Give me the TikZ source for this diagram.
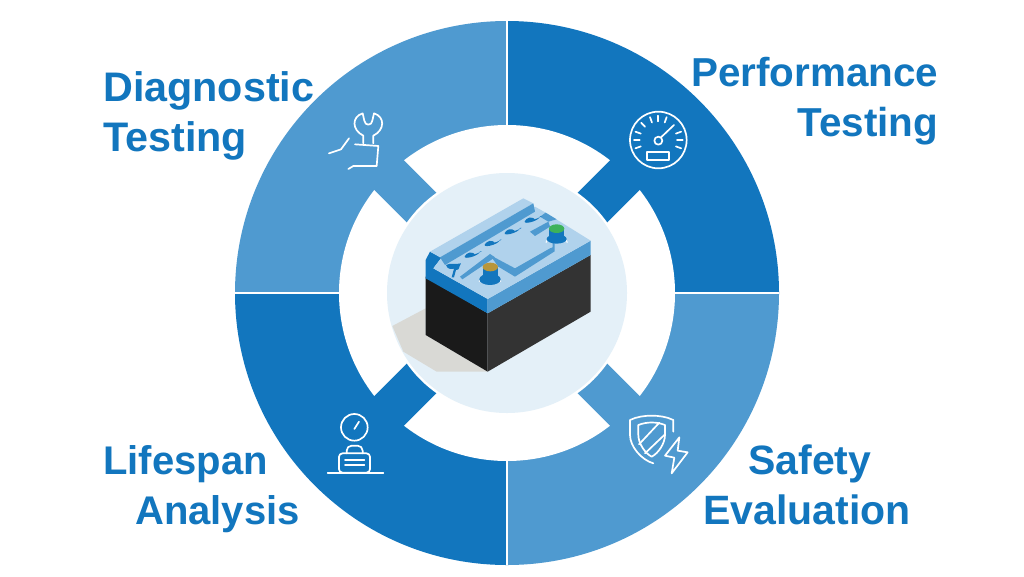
\documentclass[tikz,border=0pt]{standalone}
\usepackage{fontspec}
\setmainfont{Liberation Sans}
\definecolor{lightb}{HTML}{4F9AD0}
\definecolor{darkb}{HTML}{1276BE}
\definecolor{pale}{HTML}{E4F0F8}
\definecolor{lidtop}{HTML}{B0D2EC}
\definecolor{shadowgray}{HTML}{D9D9D5}
\definecolor{blackl}{HTML}{1A1A1A}
\definecolor{blackr}{HTML}{333333}
\definecolor{termg}{HTML}{3DB25A}
\definecolor{termy}{HTML}{B8963A}
\tikzset{
  label text/.style={font=\fontsize{#1}{50}\selectfont\bfseries,text=darkb,inner sep=0pt,anchor=north west,align=left},
  icon/.style={draw=white,line width=1.7pt,line cap=round,line join=round},
  zoomed/.style={shift={(#1)},x=0.3333pt,y=-0.3333pt}
}
\begin{document}
\begin{tikzpicture}[x=1pt,y=-1pt]
\useasboundingbox (0,0) rectangle (1024,576);
\fill[white] (0,0) rectangle (1024,576);
\coordinate (c) at (507,293);
% quadrants
\fill[lightb] (c) -- (235,293) arc[start angle=180,end angle=90,radius=272pt] -- cycle;
\fill[darkb] (c) -- (507,21) arc[start angle=90,end angle=0,radius=272pt] -- cycle;
\fill[lightb] (c) -- (779,293) arc[start angle=0,end angle=-90,radius=272pt] -- cycle;
\fill[darkb] (c) -- (507,565) arc[start angle=-90,end angle=-180,radius=272pt] -- cycle;
\draw[white,line width=1.4pt] (235,293) -- (779,293) (507,21) -- (507,565);
\fill[white] (c) circle[radius=168pt];
% diagonal bars
\begin{scope}[shift={(c)}]
\fill[darkb,rotate=45] (-175,-21) rectangle (-100,21);
\fill[lightb,rotate=-45] (100,-21) rectangle (175,21);
\fill[darkb,rotate=45] (100,-21) rectangle (175,21);
\fill[lightb,rotate=-45] (-175,-21) rectangle (-100,21);
\end{scope}
\fill[white] (c) circle[radius=122.5pt];
\fill[pale] (c) circle[radius=120pt];
% battery
\begin{scope}[zoomed={380,170}]
\begin{scope}
\clip (381,369) circle[radius=360];
\fill[shadowgray] (323,605) -- (170,605) -- (70,545) -- (37,468) -- (137,415) -- (137,495) -- cycle;
\end{scope}
\fill[blackl] (137,320) -- (323,430) -- (323,605) -- (137,495) -- cycle;
\fill[blackr] (323,430) -- (632,255) -- (632,425) -- (323,605) -- cycle;
\fill[darkb] (137,270) -- (150,245) -- (185,262) -- (160,295) -- (323,387) -- (323,430) -- (137,325) -- cycle;
\fill[lightb] (323,387) -- (632,212) -- (632,255) -- (323,430) -- cycle;
\fill[lidtop] (160,295) -- (185,262) -- (465,110) -- (497,128) -- (632,212) -- (323,387) -- cycle;
\fill[lidtop] (150,245) -- (430,85) -- (460,100) -- (180,262) -- cycle;
\fill[lightb] (180,262) -- (460,100) -- (465,125) -- (195,285) -- cycle;
% channel and panel faces
\fill[lightb] (240,320) -- (330,252) -- (345,262) -- (247,328) -- cycle;
\fill[lightb] (330,255) -- (405,295) -- (510,235) -- (518,232) -- (518,205) -- (524,205) -- (524,244) -- (405,320) -- (355,290) -- cycle;
\fill[lightb] (450,185) -- (505,155) -- (510,170) -- (465,198) -- cycle;
\fill[lightb] (497,128) -- (530,148) -- (505,155) -- (480,140) -- cycle;
% dimples
\foreach \p in {(460,145),(400,180),(340,215),(280,250)}{
  \fill[darkb] \p ++(-20,2) .. controls +(8,-10) and +(12,-2) .. ++(20,2) .. controls +(10,-2) and +(16,-4) .. ++(20,-10) .. controls +(-2,16) and +(-26,22) .. ++(-40,8) -- cycle;
}
\fill[darkb] (198,285) .. controls (210,278) and (225,285) .. (243,280) .. controls (235,292) and (240,300) .. (228,300) -- (222,322) -- (215,322) -- (222,296) .. controls (212,298) and (202,298) .. (198,285) -- cycle;
% terminals
\draw[white,line width=1pt] (298,335) arc[x radius=32,y radius=15,start angle=180,end angle=360];
\fill[darkb] (308,292) rectangle (354,325);
\fill[darkb] (330,328) ellipse[x radius=32,y radius=17];
\fill[termy] (331,291) ellipse[x radius=23,y radius=13];
\draw[white,line width=1pt] (498,218) arc[x radius=32,y radius=15,start angle=180,end angle=360];
\fill[darkb] (507,176) rectangle (553,208);
\fill[darkb] (530,207) ellipse[x radius=30,y radius=14];
\fill[termg] (530,176) ellipse[x radius=23,y radius=13];
\end{scope}
% icons: wrench
\begin{scope}[zoomed={315,100}]
\draw[icon] (145,130) -- (145,107) .. controls (110,90) and (110,50) .. (143,40) -- (148,62) .. controls (150,78) and (170,78) .. (172,62) -- (177,40) .. controls (210,50) and (210,90) .. (175,107) -- (175,130);
\draw[icon] (120,133) -- (190,138) -- (185,198) -- (115,198) -- (100,207);
\draw[icon] (102,115) -- (78,148) -- (42,160);
\end{scope}
% gauge
\begin{scope}[zoomed={620,100}]
\draw[icon] (115,120) circle[radius=85];
\draw[icon] (115,122) circle[radius=12];
\draw[icon] (123,112) -- (162,75);
\foreach \a in {-20,0,20,70,90,110,135,160,180,200}{
  \draw[icon] (115,120) +(-\a:73) -- +(-\a:56);
}
\draw[icon] (82,155) rectangle (147,180);
\end{scope}
% lifespan
\begin{scope}[zoomed={315,405}]
\draw[icon] (118,67) circle[radius=40];
\draw[icon] (118,72) -- (132,50);
\draw[icon,rounded corners=3.5pt] (72,145) rectangle (165,203);
\draw[icon,rounded corners=5pt] (95,145) -- (95,122) -- (143,122) -- (143,145);
\draw[icon] (90,165) -- (148,165) (90,180) -- (148,180);
\draw[icon] (38,205) -- (205,205);
\end{scope}
% shield
\begin{scope}[zoomed={620,405}]
\draw[icon] (160,80) -- (160,45) .. controls (140,35) and (115,32) .. (95,32) .. controls (75,32) and (50,35) .. (30,45) -- (30,90) .. controls (30,125) and (65,165) .. (100,175);
\draw[icon] (55,60) .. controls (80,50) and (110,50) .. (135,60) -- (135,90) .. controls (135,115) and (115,145) .. (95,155) .. controls (75,145) and (55,115) .. (55,90) -- cycle;
\draw[icon] (57,118) -- (118,53) (75,145) -- (135,88);
\draw[icon] (178,97) -- (135,152) -- (163,158) -- (155,205) -- (203,142) -- (173,137) -- cycle;
\end{scope}
% labels
\node[label text=41.3] (diag) at (103,71) {Diagnostic\\Testing};
\node[label text=40.4,align=right] (perf) at (691,57) {Performance\\Testing};
\node[label text=40] (life) at (103,445) {Lifespan\\\hspace*{32pt}Analysis};
\node[label text=41] (safe) at (703,445) {\hspace*{45pt}Safety\\Evaluation};
\end{tikzpicture}
\end{document}
